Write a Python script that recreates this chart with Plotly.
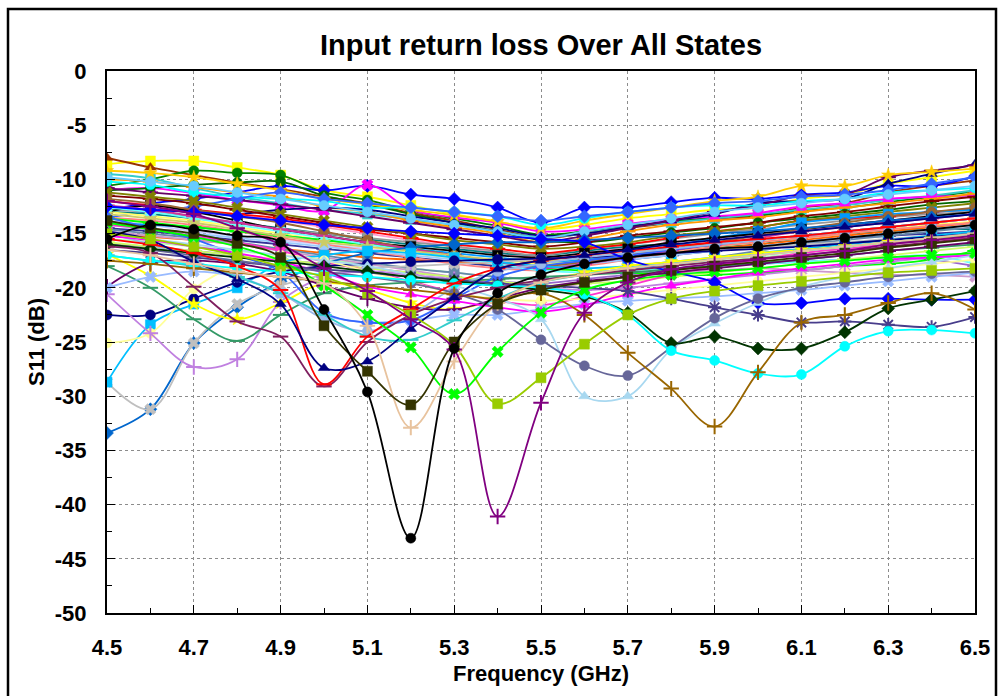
import plotly.graph_objects as go

freq_ghz = [4.5, 4.6, 4.7, 4.8, 4.9, 5.0, 5.1, 5.2, 5.3, 5.4, 5.5,
            5.6, 5.7, 5.8, 5.9, 6.0, 6.1, 6.2, 6.3, 6.4, 6.5]
x_tick_vals = [4.5, 4.7, 4.9, 5.1, 5.3, 5.5, 5.7, 5.9, 6.1, 6.3, 6.5]
x_tick_text = ["4.5", "4.7", "4.9", "5.1", "5.3", "5.5", "5.7", "5.9", "6.1", "6.3", "6.5"]
y_tick_vals = [0, -5, -10, -15, -20, -25, -30, -35, -40, -45, -50]
y_tick_text = ["0", "-5", "-10", "-15", "-20", "-25", "-30", "-35", "-40", "-45", "-50"]

# ---- band of states (S11 in dB) ----
b01 = [-8.6, -8.3, -8.3, -8.9, -9.6, -11.0, -11.6, -12.4, -13.2, -13.9, -14.6, -14.2, -13.6, -13.2, -12.8, -12.6, -11.8, -11.4, -10.4, -9.8, -9.2]
b02 = [-8.0, -8.9, -9.6, -10.3, -10.9, -11.6, -12.2, -13.1, -13.8, -14.6, -15.4, -15.0, -14.5, -14.0, -13.6, -13.4, -12.6, -12.2, -11.2, -10.6, -10.1]
b03 = [-10.6, -10.0, -9.2, -9.4, -9.6, -11.2, -11.9, -12.9, -13.6, -14.3, -15.1, -14.8, -14.3, -13.9, -13.5, -13.3, -12.9, -12.6, -12.1, -11.6, -11.1]
b04 = [-12.8, -12.2, -11.8, -11.2, -10.6, -11.0, -10.6, -11.4, -11.8, -12.6, -14.0, -12.6, -12.6, -12.1, -11.7, -11.8, -11.4, -11.2, -10.6, -10.6, -9.7]
b05 = [-9.5, -9.9, -10.8, -11.6, -12.2, -12.8, -13.2, -13.7, -14.2, -14.8, -15.3, -15.0, -14.4, -14.0, -13.6, -13.2, -12.8, -12.4, -11.9, -11.5, -11.0]
b06 = [-11.0, -10.8, -11.3, -11.9, -12.4, -12.9, -10.5, -12.8, -13.5, -14.0, -14.8, -14.6, -14.1, -13.7, -13.4, -13.1, -12.5, -12.2, -11.8, -11.6, -11.5]
b07 = [-10.0, -10.2, -10.7, -11.2, -11.6, -12.5, -13.0, -13.8, -14.4, -15.0, -15.8, -15.5, -14.8, -14.2, -13.8, -13.5, -13.0, -12.6, -12.2, -11.8, -11.3]
b08 = [-11.0, -10.8, -10.5, -10.3, -10.2, -11.5, -12.3, -13.2, -14.0, -14.8, -15.6, -15.8, -15.4, -14.9, -14.5, -14.0, -13.6, -13.2, -12.8, -12.3, -12.0]
b09 = [-12.5, -12.8, -13.0, -13.2, -12.8, -12.6, -12.8, -13.4, -14.0, -14.5, -15.2, -15.0, -14.4, -13.8, -13.2, -12.2, -12.0, -11.8, -10.4, -9.5, -8.6]
b10 = [-10.8, -11.2, -11.5, -11.9, -12.3, -12.8, -13.4, -14.0, -14.6, -15.2, -15.8, -15.2, -14.5, -13.8, -13.0, -12.4, -11.5, -11.4, -9.8, -9.2, -8.7]
b11 = [-9.2, -9.4, -9.8, -10.4, -11.0, -11.8, -12.3, -12.8, -13.3, -13.9, -14.5, -13.8, -13.2, -12.6, -12.0, -11.6, -10.6, -10.6, -9.6, -9.3, -9.0]
b12 = [-10.2, -10.5, -11.2, -11.6, -11.8, -12.0, -12.6, -12.6, -13.0, -13.4, -14.2, -13.6, -13.0, -12.6, -12.4, -12.4, -12.0, -11.8, -11.2, -11.0, -10.8]
b13 = [-13.5, -13.0, -12.5, -11.8, -11.2, -11.8, -12.2, -12.6, -13.0, -13.4, -13.8, -13.4, -13.0, -12.6, -12.2, -12.0, -11.6, -11.4, -11.0, -10.4, -9.8]
b14 = [-12.0, -12.3, -12.8, -13.3, -13.8, -14.4, -15.0, -15.6, -16.2, -16.8, -17.2, -16.8, -16.3, -15.8, -15.4, -15.0, -14.6, -14.2, -13.8, -13.4, -13.0]
b15 = [-11.5, -11.8, -12.2, -12.8, -13.4, -14.0, -14.6, -15.0, -15.4, -15.8, -16.2, -15.8, -15.2, -14.8, -14.4, -14.0, -13.4, -13.0, -12.5, -12.0, -11.6]
b16 = [-13.0, -13.2, -13.6, -14.0, -14.5, -15.0, -15.5, -16.0, -16.4, -16.8, -17.0, -16.6, -16.2, -16.0, -16.2, -16.0, -15.4, -15.0, -14.8, -14.6, -14.6]
b17 = [-12.8, -13.0, -13.5, -14.0, -14.6, -15.0, -15.4, -15.8, -16.2, -16.6, -17.0, -16.4, -16.0, -15.5, -15.0, -14.6, -14.2, -13.8, -13.5, -13.2, -13.0]
b18 = [-13.8, -14.2, -14.8, -15.2, -15.6, -16.0, -16.4, -16.8, -17.2, -17.4, -17.6, -17.2, -16.8, -16.4, -16.0, -15.6, -15.2, -14.8, -14.4, -14.0, -13.6]
b19 = [-12.0, -12.4, -12.8, -13.2, -13.6, -14.2, -14.8, -15.4, -16.0, -16.4, -16.8, -16.4, -16.0, -15.4, -14.8, -14.4, -13.8, -13.6, -13.4, -13.0, -12.8]
b20 = [-11.2, -11.6, -12.0, -12.6, -13.2, -13.8, -14.4, -15.0, -15.6, -16.0, -16.4, -16.2, -15.8, -15.2, -14.8, -14.4, -13.8, -13.4, -13.0, -12.6, -12.2]
b21 = [-13.0, -13.4, -13.8, -14.4, -15.0, -15.6, -16.2, -16.8, -17.2, -17.6, -17.8, -17.4, -17.0, -16.6, -16.2, -15.8, -15.4, -15.0, -14.6, -14.2, -13.9]
b22 = [-14.0, -14.2, -14.4, -14.8, -15.2, -15.6, -16.0, -16.4, -16.8, -17.2, -17.6, -17.4, -17.0, -16.2, -15.4, -14.8, -14.0, -13.6, -13.2, -13.0, -12.8]
b23 = [-14.5, -14.8, -15.2, -15.6, -16.0, -16.4, -16.8, -17.2, -17.6, -18.0, -18.2, -17.8, -17.4, -17.0, -16.6, -16.2, -15.8, -15.4, -15.2, -15.0, -14.8]
b24 = [-15.0, -15.3, -15.6, -16.0, -16.4, -16.8, -17.2, -17.4, -17.6, -17.8, -18.0, -17.6, -17.2, -16.8, -16.4, -16.0, -15.6, -15.2, -14.8, -14.4, -14.0]
b25 = [-15.5, -15.8, -16.2, -16.6, -17.0, -17.4, -17.8, -18.2, -18.6, -19.0, -19.2, -18.8, -18.4, -18.0, -17.6, -17.2, -16.8, -16.4, -16.0, -15.6, -15.2]
b26 = [-13.5, -13.8, -14.2, -14.8, -15.4, -16.0, -16.6, -17.2, -17.8, -18.2, -18.4, -18.0, -17.4, -16.8, -16.2, -15.8, -15.4, -15.0, -14.6, -14.3, -14.0]
b27 = [-16.0, -16.2, -16.6, -17.0, -17.4, -17.8, -18.2, -18.6, -19.0, -19.4, -19.6, -19.2, -18.8, -18.4, -18.0, -17.8, -17.6, -17.4, -17.2, -17.4, -18.0]
b28 = [-14.2, -14.6, -15.0, -15.4, -15.8, -16.2, -16.6, -17.0, -17.4, -17.8, -18.2, -17.8, -17.4, -17.0, -16.6, -16.2, -15.8, -15.4, -15.0, -14.6, -14.2]
b29 = [-13.0, -12.4, -13.0, -13.8, -14.6, -15.2, -15.8, -16.2, -16.6, -17.0, -17.2, -16.8, -16.4, -15.8, -15.4, -15.0, -14.6, -14.2, -13.8, -13.4, -13.0]
b30 = [-13.6, -14.0, -14.4, -14.8, -15.2, -15.6, -16.0, -16.4, -17.0, -17.6, -18.2, -18.4, -18.6, -18.8, -18.8, -18.6, -18.4, -18.0, -17.8, -17.4, -16.6]
b31 = [-14.8, -15.2, -15.6, -16.0, -16.6, -17.2, -17.8, -18.4, -19.0, -19.6, -20.0, -19.6, -19.0, -18.6, -18.4, -18.2, -18.4, -18.6, -18.8, -18.8, -19.0]
b32 = [-12.6, -13.0, -13.6, -14.2, -14.8, -15.4, -16.0, -16.6, -17.2, -17.8, -18.4, -18.6, -18.4, -18.2, -18.0, -17.8, -17.6, -17.4, -17.2, -17.0, -17.8]
b33 = [-15.8, -16.2, -16.6, -17.0, -17.4, -17.8, -18.2, -18.6, -19.0, -19.4, -19.8, -19.6, -19.4, -19.0, -18.6, -18.2, -17.8, -17.4, -17.0, -16.6, -16.2]
b34 = [-11.8, -12.2, -12.8, -13.4, -14.0, -14.8, -15.6, -16.4, -17.0, -17.6, -18.0, -17.6, -17.0, -16.4, -15.8, -15.2, -14.6, -14.0, -13.4, -13.0, -12.6]
b35 = [-14.6, -15.0, -15.4, -15.8, -16.4, -17.0, -17.6, -18.2, -18.6, -19.0, -19.2, -18.8, -18.4, -17.8, -17.2, -16.6, -16.0, -15.6, -15.2, -14.8, -14.4]
b36 = [-12.4, -12.8, -13.4, -14.0, -14.6, -15.2, -15.8, -16.4, -17.0, -17.6, -18.2, -17.8, -17.2, -16.6, -16.0, -15.4, -14.8, -14.4, -14.0, -13.6, -13.2]
b37 = [-9.8, -10.2, -10.6, -11.2, -11.8, -12.4, -13.0, -13.6, -14.2, -14.8, -15.4, -14.8, -14.2, -13.6, -13.0, -12.6, -12.2, -11.8, -11.4, -11.0, -10.6]
b38 = [-13.2, -13.6, -14.0, -14.6, -15.2, -15.8, -16.2, -16.6, -17.0, -17.4, -17.6, -17.2, -16.8, -16.4, -16.0, -15.6, -15.2, -14.8, -14.4, -14.0, -13.6]
b39 = [-14.2, -14.6, -15.2, -15.8, -16.6, -17.6, -18.4, -19.4, -20.4, -21.2, -21.6, -20.8, -19.8, -18.8, -18.0, -17.4, -16.8, -16.4, -16.0, -15.6, -15.4]

# ---- states with distinct resonances ----
s_black = [-15.5, -14.2, -14.6, -15.2, -15.8, -22.0, -29.6, -43.1, -25.6, -20.5, -18.8, -17.8, -17.2, -16.8, -16.4, -16.2, -15.8, -15.4, -15.0, -14.6, -14.2]
s_purple = [-12.0, -12.5, -13.2, -14.5, -16.0, -18.2, -20.3, -22.9, -25.7, -41.1, -30.6, -22.3, -19.5, -18.3, -17.8, -17.4, -17.0, -16.6, -16.0, -15.6, -15.2]
s_olive = [-13.8, -14.5, -15.0, -15.9, -17.2, -23.5, -27.7, -30.8, -25.0, -21.5, -20.2, -19.5, -19.0, -18.4, -18.0, -17.6, -17.2, -16.8, -16.3, -15.9, -15.5]
s_tan = [-16.5, -17.0, -17.8, -18.5, -19.0, -19.6, -23.5, -32.9, -26.8, -21.4, -19.5, -18.8, -18.2, -17.8, -17.4, -17.0, -16.6, -16.2, -15.8, -15.4, -15.0]
s_green = [-14.0, -14.6, -15.3, -16.2, -17.5, -19.8, -22.5, -25.5, -29.8, -25.9, -22.3, -20.2, -19.3, -18.8, -18.5, -18.2, -17.8, -17.5, -17.2, -17.0, -16.8]
s_ygreen = [-15.0, -15.5, -16.2, -17.0, -18.0, -19.0, -20.5, -22.5, -25.3, -30.7, -28.3, -25.2, -22.5, -21.0, -20.3, -19.8, -19.4, -19.0, -18.6, -18.4, -18.2]
s_navy = [-14.8, -15.6, -17.6, -19.2, -21.5, -27.4, -26.8, -23.8, -20.9, -18.3, -17.5, -17.0, -16.5, -16.0, -15.6, -15.2, -14.8, -14.4, -14.0, -13.6, -13.2]
s_red = [-15.5, -16.0, -16.8, -18.0, -20.2, -28.9, -24.5, -22.0, -19.6, -18.2, -17.5, -17.0, -16.6, -16.2, -15.8, -15.5, -15.2, -14.8, -14.4, -14.0, -13.6]
s_maroon = [-16.2, -16.8, -19.9, -23.1, -24.5, -29.1, -25.0, -22.5, -21.0, -20.0, -19.3, -18.8, -18.4, -18.0, -17.6, -17.3, -17.0, -16.6, -16.2, -15.8, -15.4]
s_brown = [-17.5, -17.8, -18.2, -18.6, -19.0, -19.4, -19.8, -20.2, -20.6, -21.0, -20.5, -22.5, -26.0, -29.3, -32.8, -27.8, -23.2, -22.5, -21.4, -20.5, -22.0]
s_cyan = [-17.0, -17.5, -17.8, -18.2, -18.5, -18.8, -19.0, -19.3, -19.6, -19.8, -20.0, -20.6, -22.5, -25.8, -26.7, -27.9, -28.0, -25.4, -24.0, -23.9, -24.2]
s_dkgreen = [-16.0, -16.4, -16.8, -17.2, -17.6, -18.0, -18.5, -19.0, -19.4, -19.8, -20.2, -20.8, -22.3, -25.1, -24.5, -25.6, -25.6, -24.1, -21.9, -21.1, -20.3]
s_blue = [-12.5, -12.8, -13.0, -13.4, -13.8, -14.2, -14.5, -14.8, -15.0, -15.2, -15.5, -15.8, -17.4, -18.5, -19.5, -21.4, -21.4, -21.0, -21.0, -21.1, -21.1]
s_slate = [-16.5, -16.8, -17.2, -17.6, -18.0, -18.3, -18.6, -19.0, -19.3, -19.6, -19.8, -20.0, -20.3, -21.0, -21.8, -22.5, -23.2, -23.1, -23.4, -23.6, -22.7]
s_ltcyan = [-15.0, -15.5, -16.0, -16.5, -17.0, -17.5, -18.0, -18.8, -19.8, -21.0, -22.9, -30.0, -30.0, -25.7, -23.3, -21.4, -19.9, -19.0, -18.2, -17.6, -17.0]
s_slatecirc = [-16.0, -16.5, -17.0, -17.5, -18.0, -18.5, -19.0, -19.6, -20.5, -22.0, -24.8, -27.2, -28.1, -25.5, -22.8, -21.0, -20.0, -19.5, -19.0, -18.7, -18.5]
s_steel = [-33.4, -31.2, -25.1, -21.8, -19.4, -17.8, -16.8, -16.3, -16.0, -15.8, -15.8, -15.6, -15.4, -15.2, -15.0, -14.8, -14.5, -14.2, -13.8, -13.5, -13.2]
s_silver = [-28.7, -31.2, -25.1, -21.5, -19.8, -18.8, -18.2, -18.0, -17.8, -17.6, -17.4, -17.2, -17.0, -16.8, -16.5, -16.3, -16.0, -15.8, -15.5, -15.2, -15.0]
s_sky = [-28.7, -23.4, -21.5, -20.0, -17.7, -17.0, -16.6, -16.8, -17.2, -17.6, -18.0, -18.2, -18.0, -17.6, -17.2, -16.8, -16.4, -16.0, -15.6, -15.2, -14.8]
s_navycx = [-22.5, -22.5, -21.0, -19.5, -18.5, -18.0, -17.8, -17.6, -17.5, -17.4, -17.3, -17.2, -17.0, -16.8, -16.6, -16.4, -16.2, -15.9, -15.6, -15.3, -15.0]
s_ltyellow = [-25.1, -24.2, -20.1, -17.9, -17.0, -17.5, -18.5, -19.5, -20.5, -21.0, -21.2, -21.0, -20.6, -20.2, -19.8, -19.4, -19.0, -18.6, -18.2, -17.8, -17.4]
s_plum = [-20.6, -24.2, -27.3, -26.6, -21.3, -19.0, -18.5, -18.8, -19.2, -19.6, -20.0, -20.2, -20.0, -19.6, -19.2, -18.8, -18.4, -18.0, -17.6, -17.2, -16.8]
s_yellow = [-16.9, -18.9, -21.5, -22.9, -21.4, -19.6, -20.2, -21.4, -22.0, -21.0, -19.5, -18.6, -18.0, -17.6, -17.2, -16.8, -16.5, -16.2, -15.8, -15.5, -15.2]
s_seagreen = [-18.0, -20.0, -22.9, -24.9, -22.5, -20.5, -19.8, -19.5, -19.4, -19.2, -19.0, -18.8, -18.6, -18.3, -18.0, -17.7, -17.4, -17.0, -16.6, -16.3, -16.0]
s_dkpurple = [-19.9, -17.7, -17.5, -17.8, -18.5, -19.8, -21.0, -21.8, -22.0, -21.0, -20.0, -19.4, -19.0, -18.6, -18.2, -17.8, -17.4, -17.0, -16.6, -16.2, -15.8]
s_cornflower = [-20.0, -19.0, -18.5, -19.0, -20.5, -22.5, -23.2, -23.0, -22.5, -22.5, -22.0, -21.5, -21.2, -21.0, -20.8, -20.5, -20.2, -19.8, -19.4, -19.0, -18.6]
s_royal = [-13.5, -14.5, -15.5, -17.0, -18.5, -22.3, -23.2, -23.0, -21.0, -19.0, -18.0, -17.5, -17.0, -16.5, -16.0, -15.6, -15.2, -14.8, -14.4, -14.0, -13.6]
s_ltsteel = [-15.0, -16.0, -17.5, -19.0, -20.5, -22.9, -24.0, -22.5, -20.0, -18.5, -17.8, -17.2, -16.8, -16.4, -16.0, -15.6, -15.2, -14.8, -14.4, -14.0, -13.6]
s_turq = [-17.0, -17.5, -18.0, -19.0, -20.5, -22.5, -24.5, -24.8, -23.0, -21.0, -19.5, -18.8, -18.2, -17.8, -17.4, -17.0, -16.6, -16.2, -15.8, -15.4, -15.0]
s_magenta = [-15.2, -15.6, -16.2, -16.8, -17.6, -18.6, -19.9, -20.6, -21.2, -21.8, -22.2, -21.6, -20.6, -19.8, -19.2, -18.6, -18.2, -17.8, -17.4, -17.2, -17.0]

band = [b01, b02, b03, b04, b05, b06, b07, b08, b09, b10, b11, b12, b13,
        b14, b15, b16, b17, b18, b19, b20, b21, b22, b23, b24, b25, b26,
        b27, b28, b29, b30, b31, b32, b33, b34, b35, b36, b37, b38, b39]
band_colors = ["#FFFF00", "#993300", "#008000", "#0000FF", "#33CCCC", "#FF00FF",
               "#FF9900", "#006600", "#000080", "#660066", "#FFCC00", "#00FFFF",
               "#3366FF", "#FF99CC", "#800000", "#008080", "#969696", "#CCCCFF",
               "#FF0000", "#808000", "#FFFF66", "#0099FF", "#333399", "#FF6600",
               "#B3FFB3", "#FF8080", "#9966CC", "#99CCFF", "#000000", "#00FF00",
               "#CC99CC", "#66FFFF", "#CCFF66", "#996633", "#6688AA", "#CC3399",
               "#66CCFF", "#CCCC66", "#FF33CC"]
band_symbols = ["square", "triangle-up", "circle", "diamond", "square", "x",
                "line-ew", "circle", "triangle-up", "line-ew", "star", "circle",
                "diamond", "cross-thin", "line-ew", "square", "square", "square",
                "line-ew", "x", "x", "square", "line-ew", "star", "circle",
                "square", "line-ew", "diamond", "square", "line-ew", "x",
                "x", "cross-thin", "circle", "square", "line-ew", "circle",
                "star", "x"]

special = [s_steel, s_silver, s_sky, s_navycx, s_ltyellow, s_plum, s_yellow,
           s_seagreen, s_dkpurple, s_cornflower, s_royal, s_ltsteel, s_turq,
           s_magenta, s_blue, s_slate, s_ltcyan, s_slatecirc, s_dkgreen, s_cyan,
           s_brown, s_maroon, s_red, s_navy, s_ygreen, s_green, s_tan, s_olive,
           s_purple, s_black]
special_colors = ["#0066CC", "#BFBFBF", "#00BFFF", "#000080", "#FFFF99", "#C080E0",
                  "#FFFF00", "#339966", "#660066", "#99BBFF", "#3366FF", "#99B8E8",
                  "#33CCCC", "#FF00FF", "#0000FF", "#483D8B", "#A8D8F0", "#666699",
                  "#003300", "#00FFFF", "#996600", "#7F1F5F", "#FF0000", "#000080",
                  "#99CC00", "#00FF00", "#E8C39E", "#333300", "#800080", "#000000"]
special_symbols = ["diamond", "x", "square", "circle-cross", "circle", "cross-thin",
                   "star", "line-ew", "cross-thin", "x", "diamond", "circle",
                   "line-ew", "triangle-up", "diamond", "asterisk", "triangle-up",
                   "circle", "diamond", "circle", "cross-thin", "line-ew", "line-ew",
                   "triangle-up", "square", "x", "cross-thin", "square", "cross-thin",
                   "circle"]

fig = go.Figure()

def add(vals, color, symbol):
    thin = symbol in ("cross-thin", "line-ew", "asterisk")
    fig.add_trace(go.Scatter(
        x=freq_ghz, y=vals, mode="lines+markers",
        line=dict(color=color, width=1.8, shape="spline", smoothing=1.0),
        marker=dict(symbol=symbol, size=10 if not thin else 11, color=color,
                    line=dict(color=color, width=2 if thin else 0.5)),
        showlegend=False, hoverinfo="skip"))

for vals, c, s in zip(band, band_colors, band_symbols):
    add(vals, c, s)
for vals, c, s in zip(special, special_colors, special_symbols):
    add(vals, c, s)

FONT = "Liberation Sans, Arial, sans-serif"

fig.update_layout(
    width=1002, height=696,
    margin=dict(l=107, r=27, t=71, b=83),
    paper_bgcolor="white", plot_bgcolor="white",
    title=dict(text="Input return loss Over All States", x=0.5, xref="paper",
               xanchor="center", y=1 - 45 / 696, yref="container", yanchor="middle",
               font=dict(family=FONT, size=29, color="black", weight="bold")),
    showlegend=False,
    shapes=[dict(type="rect", xref="paper", yref="paper",
                 x0=-99 / 868, x1=889 / 868, y0=-100 / 542, y1=604 / 542,
                 line=dict(color="black", width=2.5), fillcolor="rgba(0,0,0,0)",
                 layer="below")],
)

fig.update_xaxes(
    range=[4.5, 6.5], tickmode="array", tickvals=x_tick_vals, ticktext=x_tick_text,
    ticks="inside", ticklen=8, tickcolor="black", tickwidth=1,
    minor=dict(tickmode="array", tickvals=[4.6, 4.8, 5.0, 5.2, 5.4, 5.6, 5.8, 6.0, 6.2, 6.4],
               ticks="inside", ticklen=5, tickcolor="black", showgrid=False),
    showgrid=True, gridcolor="#8C8C8C", griddash="dot", gridwidth=1,
    showline=True, linecolor="black", linewidth=2, mirror=True,
    zeroline=False, ticklabelstandoff=14, automargin=False,
    tickfont=dict(family=FONT, size=22, color="black", weight="bold"),
    title=dict(text="Frequency (GHz)", standoff=6,
               font=dict(family=FONT, size=22, color="black", weight="bold")),
)
fig.update_yaxes(
    range=[-50, 0], tickmode="array", tickvals=y_tick_vals, ticktext=y_tick_text,
    ticks="inside", ticklen=8, tickcolor="black", tickwidth=1,
    minor=dict(tickmode="linear", tick0=0, dtick=2.5, ticks="inside", ticklen=5,
               tickcolor="black", showgrid=False),
    showgrid=True, gridcolor="#8C8C8C", griddash="dot", gridwidth=1,
    showline=True, linecolor="black", linewidth=2, mirror=True,
    zeroline=False, ticklabelstandoff=14, automargin=False,
    tickfont=dict(family=FONT, size=22, color="black", weight="bold"),
    title=dict(text="S11 (dB)", standoff=4,
               font=dict(family=FONT, size=22, color="black", weight="bold")),
)

fig.write_html("out.html", config={"displayModeBar": False},
               post_script="document.body.style.margin='0';document.body.style.overflow='hidden';")
